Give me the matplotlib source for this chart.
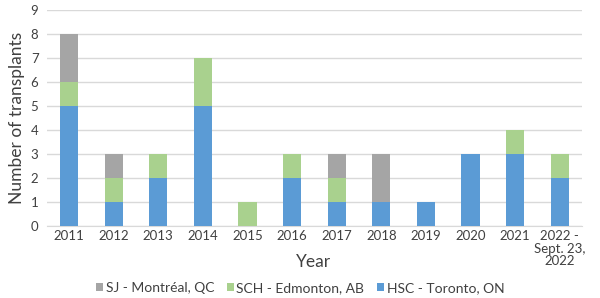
import numpy as np
import matplotlib.pyplot as plt

plt.rcParams['font.family'] = ['Lato', 'DejaVu Sans']

years = ['2011', '2012', '2013', '2014', '2015', '2016', '2017', '2018', '2019',
         '2020', '2021', '2022 -\nSept. 23,\n2022']
hsc = [5, 1, 2, 5, 0, 2, 1, 1, 1, 3, 3, 2]
sch = [1, 1, 1, 2, 1, 1, 1, 0, 0, 0, 1, 1]
sj = [2, 1, 0, 0, 0, 0, 1, 2, 0, 0, 0, 0]

fig = plt.figure(figsize=(6, 2.98), dpi=100)
ax = fig.add_axes([0.078, 0.242, 0.892, 0.724])

x = np.arange(len(years))
w = 0.41
hsc = np.array(hsc)
sch = np.array(sch)
sj = np.array(sj)
ax.bar(x, hsc, w, color='#5B9BD5', label='HSC - Toronto, ON', zorder=3)
ax.bar(x, sch, w, bottom=hsc, color='#A9D18E', label='SCH - Edmonton, AB', zorder=3)
ax.bar(x, sj, w, bottom=hsc + sch, color='#A5A5A5', label='SJ - Montréal, QC', zorder=3)

ax.set_xlim(-0.5, len(years) - 0.5)
ax.set_ylim(0, 9)
ax.set_yticks(range(10))
ax.set_xticks(x)
ax.set_xticklabels(years, fontsize=9.5, color='#404040', linespacing=1.05)
ax.tick_params(axis='y', labelsize=9.5, colors='#404040', length=0, pad=6)
ax.tick_params(axis='x', length=0, pad=3)
ax.grid(axis='y', color='#D9D9D9', linewidth=1, zorder=0)
for s in ['top', 'right', 'left']:
    ax.spines[s].set_visible(False)
ax.spines['bottom'].set_color('#D9D9D9')

ax.set_ylabel('Number of transplants', fontsize=12.5, color='#404040', labelpad=4)
fig.text(0.523, 0.121, 'Year', fontsize=12.5, color='#404040', ha='center', va='center')

h, l = ax.get_legend_handles_labels()
fig.legend(h[::-1], l[::-1], loc='center', bbox_to_anchor=(0.5, 0.034), ncol=3,
           frameon=False, fontsize=10, handlelength=0.5, handleheight=0.5,
           handletextpad=0.2, columnspacing=0.9, labelcolor='#404040')

fig.savefig('out.png', dpi=100)
